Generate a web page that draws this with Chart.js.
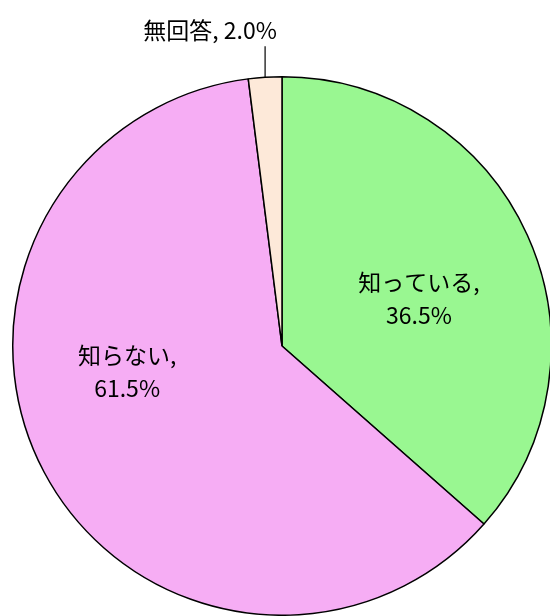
<!DOCTYPE html>
<html>
<head>
<meta charset="utf-8">
<script src="https://cdn.jsdelivr.net/npm/chart.js@4"></script>
<style>
  html, body { margin: 0; padding: 0; background: #fff; overflow: hidden; }
  #wrap { position: absolute; left: 0; top: 0; width: 552px; height: 616px; }
</style>
</head>
<body>
<div id="wrap"><canvas id="pieChart"></canvas></div>
<script>
// Answers and shares (%)
const categories = ['知っている', '知らない', '無回答'];
const shares = [36.5, 61.5, 2.0];
const sliceColors = ['rgb(153, 247, 145)', 'rgb(246, 173, 244)', 'rgb(253, 233, 217)'];

const FONT = '"Noto Sans CJK JP", "Noto Sans", sans-serif';

// Label plugin: draws "name," / "value%" inside, small slices outside with a leader line
const sliceLabels = {
  id: 'sliceLabels',
  afterDatasetsDraw(chart, args, opts) {
    const ctx = chart.ctx;
    const arcs = chart.getDatasetMeta(0).data;
    ctx.save();
    ctx.fillStyle = '#000';
    ctx.font = '23px ' + FONT;
    ctx.textAlign = 'center';
    ctx.textBaseline = 'middle';
    arcs.forEach((arc, i) => {
      const { x, y, startAngle, endAngle, outerRadius } = arc.getProps(['x', 'y', 'startAngle', 'endAngle', 'outerRadius'], true);
      const mid = (startAngle + endAngle) / 2;
      const pct = shares[i].toFixed(1) + '%';
      const o = opts.offsets[i];
      if (shares[i] < 5) {
        const lx = x + Math.cos(mid) * outerRadius;
        const ly = y + Math.sin(mid) * outerRadius;
        ctx.strokeStyle = '#000';
        ctx.lineWidth = 1.2;
        ctx.beginPath();
        ctx.moveTo(lx, ly);
        ctx.lineTo(lx, ly - o[1]);
        ctx.stroke();
        ctx.fillText(categories[i] + ', ' + pct, lx + o[0], ly - o[1] - 16);
      } else {
        const cx = x + Math.cos(mid) * outerRadius * 0.55 + o[0];
        const cy = y + Math.sin(mid) * outerRadius * 0.55 + o[1];
        ctx.fillText(categories[i] + ',', cx, cy - 17);
        ctx.fillText(pct, cx, cy + 16);
      }
    });
    ctx.restore();
  }
};

new Chart(document.getElementById('pieChart'), {
  type: 'pie',
  data: {
    labels: categories,
    datasets: [{
      data: shares,
      backgroundColor: sliceColors,
      borderColor: '#000',
      borderWidth: 1.5
    }]
  },
  options: {
    responsive: true,
    maintainAspectRatio: false,
    animation: false,
    layout: { padding: { left: 12, top: 76, right: 0, bottom: 0 } },
    plugins: {
      legend: { display: false },
      tooltip: { enabled: false },
      sliceLabels: { offsets: [[2, 14], [-24, -43], [-55, 31]] }
    }
  },
  plugins: [sliceLabels]
});
</script>
</body>
</html>
